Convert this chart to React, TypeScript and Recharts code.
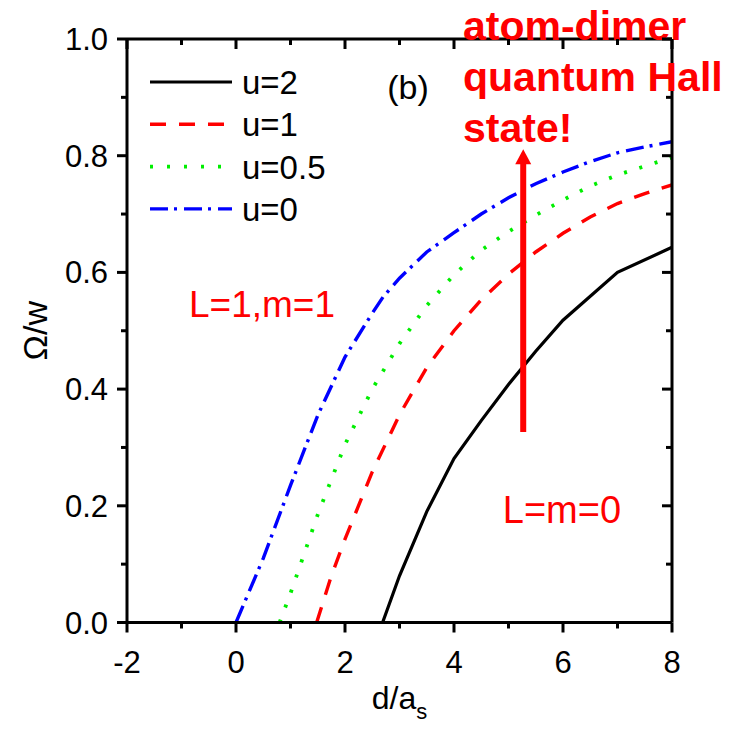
import React from 'react';
import { LineChart, Line, XAxis, YAxis, ReferenceLine, ReferenceDot, Legend, Label } from 'recharts';

// curves: x = d/a_s, y = Omega/w
const u2 = [
  { x: 2.69, y: 0 }, { x: 3, y: 0.08 }, { x: 3.5, y: 0.19 }, { x: 4, y: 0.281 },
  { x: 4.5, y: 0.346 }, { x: 5, y: 0.408 }, { x: 5.5, y: 0.465 }, { x: 6, y: 0.518 },
  { x: 7, y: 0.6 }, { x: 8, y: 0.643 },
];
const u1 = [
  { x: 1.48, y: 0 }, { x: 1.75, y: 0.08 }, { x: 2, y: 0.143 }, { x: 2.5, y: 0.258 },
  { x: 3, y: 0.356 }, { x: 3.5, y: 0.437 }, { x: 4, y: 0.5 }, { x: 4.5, y: 0.553 },
  { x: 5, y: 0.597 }, { x: 5.5, y: 0.635 }, { x: 6, y: 0.667 }, { x: 6.5, y: 0.695 },
  { x: 7, y: 0.718 }, { x: 7.5, y: 0.735 }, { x: 8, y: 0.75 },
];
const u05 = [
  { x: 0.8, y: 0 }, { x: 1, y: 0.05 }, { x: 1.5, y: 0.185 }, { x: 2, y: 0.305 },
  { x: 2.5, y: 0.4 }, { x: 3, y: 0.478 }, { x: 3.5, y: 0.543 }, { x: 4, y: 0.596 },
  { x: 4.5, y: 0.638 }, { x: 5, y: 0.67 }, { x: 5.5, y: 0.698 }, { x: 6, y: 0.724 },
  { x: 6.5, y: 0.748 }, { x: 7, y: 0.767 }, { x: 7.5, y: 0.782 }, { x: 8, y: 0.797 },
];
const u0 = [
  { x: 0, y: 0 }, { x: 0.5, y: 0.11 }, { x: 1, y: 0.235 }, { x: 1.5, y: 0.355 },
  { x: 2, y: 0.455 }, { x: 2.5, y: 0.53 }, { x: 2.7, y: 0.558 }, { x: 3, y: 0.59 },
  { x: 3.5, y: 0.635 }, { x: 4, y: 0.668 }, { x: 4.5, y: 0.7 }, { x: 5, y: 0.728 },
  { x: 5.5, y: 0.752 }, { x: 6, y: 0.772 }, { x: 6.5, y: 0.79 }, { x: 7, y: 0.805 },
  { x: 7.5, y: 0.815 }, { x: 8, y: 0.824 },
];

const xTicks = [-2, -1, 0, 1, 2, 3, 4, 5, 6, 7, 8];
const yTicks = [0, 0.1, 0.2, 0.3, 0.4, 0.5, 0.6, 0.7, 0.8, 0.9, 1.0];

const seriesList = [
  { name: 'u=2', data: u2, color: '#000000', dash: undefined, w: 3.2 },
  { name: 'u=1', data: u1, color: '#ff0000', dash: '16 13', w: 3.4 },
  { name: 'u=0.5', data: u05, color: '#00ee00', dash: '3 13', w: 3.8 },
  { name: 'u=0', data: u0, color: '#0000ff', dash: '18 6 3 7', w: 3.4 },
];

const arrowX = 5.27;
const arrowFrom = 0.3265;
const arrowTo = 0.811;

const FONT = '"Liberation Sans", Arial, sans-serif';

const isMajorX = (v: number) => Math.round(v) % 2 === 0;
const isMajorY = (v: number) => Math.round(v * 10) % 2 === 0;

const BottomTick = (props: any) => {
  const { x, y, payload } = props;
  const major = isMajorX(payload.value);
  return (
    <g>
      <line x1={x} y1={y} x2={x} y2={y + (major ? 10 : 6)} stroke="#000" strokeWidth={3} />
      {major && (
        <text x={x} y={y + 50} textAnchor="middle" fontSize={31} fontFamily={FONT} fill="#000">
          {payload.value}
        </text>
      )}
    </g>
  );
};

const TopTick = (props: any) => {
  const { x, y, payload } = props;
  const major = isMajorX(payload.value);
  return <line x1={x} y1={y} x2={x} y2={y + (major ? 10 : 6)} stroke="#000" strokeWidth={3} />;
};

const LeftTick = (props: any) => {
  const { x, y, payload } = props;
  const major = isMajorY(payload.value);
  return (
    <g>
      <line x1={x} y1={y} x2={x - (major ? 10 : 6)} y2={y} stroke="#000" strokeWidth={3} />
      {major && (
        <text x={x - 19} y={y + 11} textAnchor="end" fontSize={31} fontFamily={FONT} fill="#000">
          {payload.value.toFixed(1)}
        </text>
      )}
    </g>
  );
};

const RightTick = (props: any) => {
  const { x, y, payload } = props;
  const major = isMajorY(payload.value);
  return <line x1={x} y1={y} x2={x - (major ? 10 : 6)} y2={y} stroke="#000" strokeWidth={3} />;
};

const LegendBox = () => (
  <svg width={230} height={170}>
    {seriesList.map((s, i) => {
      const cy = 22 + i * 42.3;
      return (
        <g key={s.name}>
          <line
            x1={10}
            y1={cy}
            x2={92}
            y2={cy}
            stroke={s.color}
            strokeWidth={s.w}
            strokeDasharray={s.dash === '3 13' ? '3 14' : s.dash}
          />
          <text x={102} y={cy + 12} fontSize={33} fontFamily={FONT} fill="#000">
            {s.name}
          </text>
        </g>
      );
    })}
  </svg>
);

const Arrow = (props: any) => {
  const { x1, y1, x2, y2 } = props;
  return (
    <g>
      <line x1={x1} y1={y1} x2={x2} y2={y2 + 12} stroke="#ff0000" strokeWidth={6} />
      <polygon points={`${x2},${y2} ${x2 - 8},${y2 + 15} ${x2 + 8},${y2 + 15}`} fill="#ff0000" />
    </g>
  );
};

const textAt = (lines: string[], size: number, bold: boolean, anchor: string, lineGap: number) =>
  (props: any) => {
    const { cx, cy } = props;
    return (
      <text
        x={cx}
        y={cy}
        fill="#ff0000"
        fontSize={size}
        fontWeight={bold ? 'bold' : 'normal'}
        fontFamily={FONT}
        textAnchor={anchor as any}
      >
        {lines.map((t, i) => (
          <tspan key={i} x={cx} dy={i === 0 ? 0 : lineGap}>
            {t}
          </tspan>
        ))}
      </text>
    );
  };

const YLabel = (props: any) => {
  const vb = props.viewBox;
  const cx = vb.x + 35;
  const cy = vb.y + vb.height / 2;
  return (
    <text x={cx} y={cy} transform={`rotate(-90 ${cx} ${cy})`} textAnchor="middle" dominantBaseline="central"
      fontSize={34} fontFamily={FONT} fill="#000">
      Ω/w
    </text>
  );
};

const XLabel = (props: any) => {
  const vb = props.viewBox;
  const cx = vb.x + vb.width / 2;
  return (
    <text x={cx} y={vb.y + 86} textAnchor="middle" fontSize={32} fontFamily={FONT} fill="#000">
      d/a
      <tspan fontSize={22} dy={10}>s</tspan>
    </text>
  );
};

export default function App() {
  return (
    <div style={{ width: 746, height: 729, background: '#fff' }}>
      <style>{'body{margin:0;}'}</style>
      <LineChart width={746} height={729} margin={{ top: 39, right: 74, bottom: 0, left: 0 }}>
        <XAxis
          xAxisId={0}
          type="number"
          dataKey="x"
          domain={[-2, 8]}
          ticks={xTicks}
          interval={0}
          allowDataOverflow
          height={106.5}
          tickSize={0}
          tickMargin={0}
          tickLine={false}
          tick={<BottomTick />}
          axisLine={{ stroke: '#000', strokeWidth: 3 }}
        >
          <Label content={<XLabel />} />
        </XAxis>
        <XAxis
          xAxisId="top"
          orientation="top"
          mirror
          type="number"
          dataKey="x"
          domain={[-2, 8]}
          ticks={xTicks}
          interval={0}
          allowDataOverflow
          tickSize={0}
          tickMargin={0}
          tickLine={false}
          tick={<TopTick />}
          axisLine={{ stroke: '#000', strokeWidth: 3 }}
        />
        <YAxis
          yAxisId={0}
          type="number"
          domain={[0, 1]}
          ticks={yTicks}
          interval={0}
          allowDataOverflow
          width={127}
          tickSize={0}
          tickMargin={0}
          tickLine={false}
          tick={<LeftTick />}
          axisLine={{ stroke: '#000', strokeWidth: 3 }}
        >
          <Label content={<YLabel />} />
        </YAxis>
        <YAxis
          yAxisId="right"
          orientation="right"
          mirror
          type="number"
          domain={[0, 1]}
          ticks={yTicks}
          interval={0}
          allowDataOverflow
          tickSize={0}
          tickMargin={0}
          tickLine={false}
          tick={<RightTick />}
          axisLine={{ stroke: '#000', strokeWidth: 3 }}
        />
        {seriesList.map((s) => (
          <Line
            key={s.name}
            data={s.data}
            dataKey="y"
            name={s.name}
            type="linear"
            stroke={s.color}
            strokeWidth={s.w}
            strokeDasharray={s.dash}
            dot={false}
            activeDot={false}
            isAnimationActive={false}
          />
        ))}
        <ReferenceLine
          segment={[{ x: arrowX, y: arrowFrom }, { x: arrowX, y: arrowTo }]}
          shape={<Arrow />}
          ifOverflow="visible"
        />
        <ReferenceDot x={0.477} y={0.5236} r={0} ifOverflow="visible"
          shape={textAt(['L=1,m=1'], 37, false, 'middle', 0)} />
        <ReferenceDot x={5.98} y={0.1705} r={0} ifOverflow="visible"
          shape={textAt(['L=m=0'], 38, false, 'middle', 0)} />
        <ReferenceDot x={4.165} y={0.998} r={0} ifOverflow="visible"
          shape={textAt(['atom-dimer', 'quantum Hall', 'state!'], 41, true, 'start', 51)} />
        <ReferenceDot x={3.156} y={0.8971} r={0} ifOverflow="visible"
          shape={(p: any) => (
            <text x={p.cx} y={p.cy} textAnchor="middle" fontSize={34} fontFamily={FONT} fill="#000">(b)</text>
          )} />
        <Legend
          layout="vertical"
          align="center"
          verticalAlign="middle"
          wrapperStyle={{ left: 140, top: 60, width: 230 }}
          content={() => <LegendBox />}
        />
      </LineChart>
    </div>
  );
}
